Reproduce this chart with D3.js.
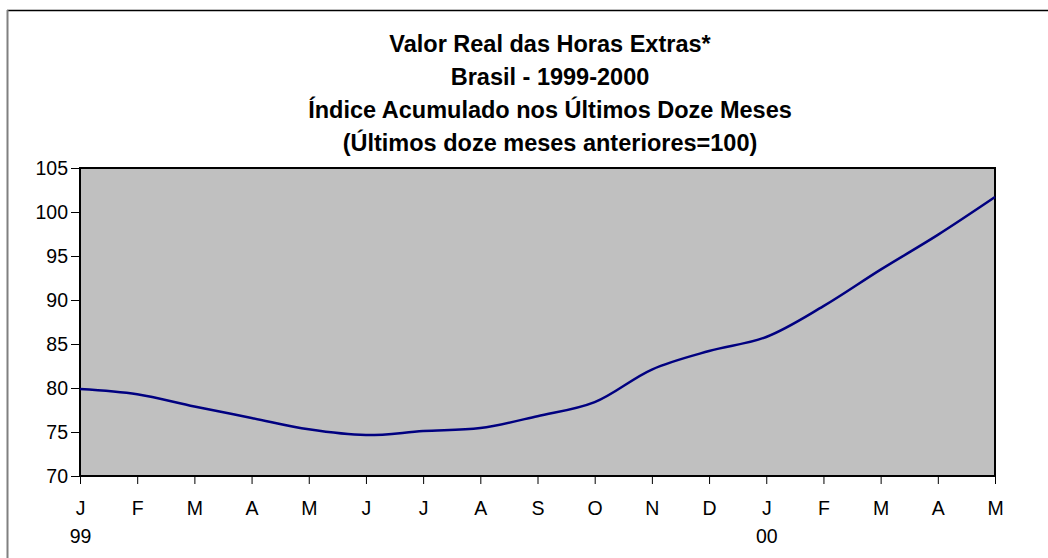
<!DOCTYPE html>
<html>
<head>
<meta charset="utf-8">
<script src="https://cdn.jsdelivr.net/npm/d3@7"></script>
<style>
  body { margin: 0; background: #fff; }
  svg { display: block; font-family: "Liberation Sans", Arial, sans-serif; }
</style>
</head>
<body>
<svg id="chart"></svg>
<script>
// data
const months = ["J", "F", "M", "A", "M", "J", "J", "A", "S", "O", "N", "D", "J", "F", "M", "A", "M"];
const years = ["99", "", "", "", "", "", "", "", "", "", "", "", "00", "", "", "", ""];
const values = [79.9, 79.3, 77.9, 76.6, 75.3, 74.65, 75.1, 75.45, 76.8, 78.4, 82.1, 84.2, 85.8, 89.3, 93.45, 97.4, 101.7];
const yTicks = [70, 75, 80, 85, 90, 95, 100, 105];
const titleLines = [
    "Valor Real das Horas Extras*",
    "Brasil - 1999-2000",
    "Índice Acumulado nos Últimos Doze Meses",
    "(Últimos doze meses anteriores=100)"
];

const width = 1048, height = 558;
const margin = {top: 168, right: 53, bottom: 82, left: 80};

const svg = d3.select('#chart')
    .attr('width', width)
    .attr('height', height);

// chart area frame: black top, gray left
svg.append('line')
    .attr('x1', 7).attr('x2', width).attr('y1', 10.5).attr('y2', 10.5)
    .attr('stroke', '#000').attr('stroke-width', 1.5);
svg.append('line')
    .attr('x1', 7.5).attr('x2', 7.5).attr('y1', 10).attr('y2', height)
    .attr('stroke', '#808080').attr('stroke-width', 2);

const innerW = width - margin.left - margin.right;
const innerH = height - margin.top - margin.bottom;

const x = d3.scalePoint()
    .domain(d3.range(months.length))
    .range([0, innerW]);

const y = d3.scaleLinear()
    .domain([70, 105])
    .range([innerH, 0]);

const chart = svg.append('g')
    .attr('transform', `translate(${margin.left}, ${margin.top})`);

chart.append('rect')
    .attr('width', innerW)
    .attr('height', innerH)
    .attr('fill', '#c0c0c0');

// y axis
const yAxis = chart.append('g')
    .call(d3.axisLeft(y).tickValues(yTicks).tickSize(9).tickPadding(3));
yAxis.select('.domain').remove();
yAxis.selectAll('line').attr('stroke', '#000');
yAxis.selectAll('text')
    .style('font-size', '19.5px')
    .style('font-family', '"Liberation Sans", Arial, sans-serif')
    .attr('fill', '#000');

// x axis
const xAxis = chart.append('g')
    .attr('transform', `translate(0, ${innerH})`)
    .call(d3.axisBottom(x).tickFormat(i => months[i]).tickSize(8).tickPadding(0));
xAxis.select('.domain').remove();
xAxis.selectAll('line').attr('stroke', '#000');
xAxis.selectAll('text')
    .attr('y', 0)
    .attr('dy', null)
    .style('font-size', '19.5px')
    .style('font-family', '"Liberation Sans", Arial, sans-serif')
    .attr('fill', '#000')
    .each(function(i) {
        const t = d3.select(this);
        t.text(null);
        t.append('tspan').attr('x', 0).attr('y', 39).text(months[i]);
        if (years[i]) t.append('tspan').attr('x', 0).attr('y', 67).text(years[i]);
    });

// plot border
chart.append('rect')
    .attr('width', innerW)
    .attr('height', innerH)
    .attr('fill', 'none')
    .attr('stroke', '#000')
    .attr('stroke-width', 2);

const line = d3.line()
    .x((d, i) => x(i))
    .y(d => y(d))
    .curve(d3.curveCatmullRom.alpha(0.5));

chart.append('path')
    .datum(values)
    .attr('d', line)
    .attr('fill', 'none')
    .attr('stroke', '#000080')
    .attr('stroke-width', 2.5);

// title
const title = svg.append('text')
    .attr('text-anchor', 'middle')
    .style('font-size', '23.5px')
    .style('font-weight', 'bold')
    .attr('fill', '#000');
titleLines.forEach((s, i) => {
    title.append('tspan')
        .attr('x', 550)
        .attr('y', 51.5 + i * 33)
        .text(s);
});
</script>
</body>
</html>
